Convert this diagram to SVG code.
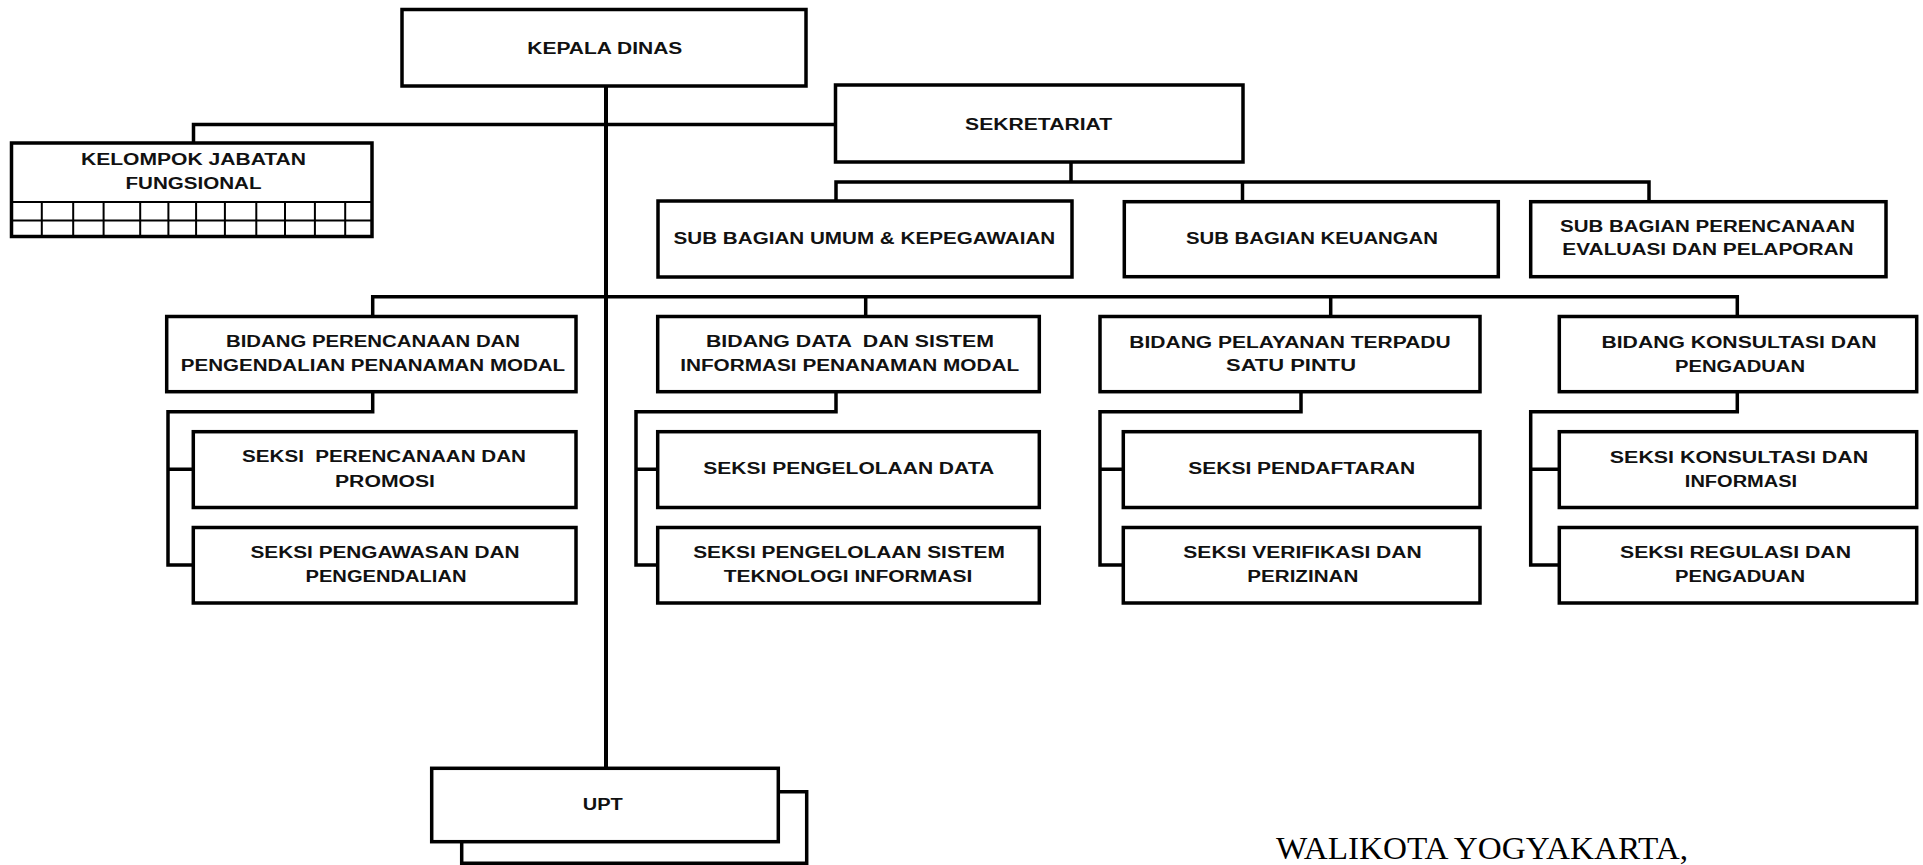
<svg xmlns="http://www.w3.org/2000/svg" width="1923" height="865" viewBox="0 0 1923 865">
<style>
.box{fill:#fff;stroke:#000;stroke-width:3.5}
.ln{fill:none;stroke:#000;stroke-width:3.5;stroke-linecap:square}
.grid{fill:none;stroke:#000;stroke-width:2}
.t{font-family:"Liberation Sans",Arial,sans-serif;font-weight:bold;font-size:16px;fill:#111;text-anchor:middle}
.sig{font-family:"Liberation Serif","Times New Roman",serif;font-size:31px;fill:#000}
</style>
<rect width="1923" height="865" fill="#fff"/>
<g id="connectors">
<path class="ln" d="M606 86 V768" style="stroke-width:4"/>
<path class="ln" d="M193.5 143 V124.5 H835"/>
<path class="ln" d="M1071 162 V182 M836 201 V182 H1649 V201 M1242.5 182 V201"/>
<path class="ln" d="M372.7 316.5 V296.7 H1737.3 V316.5 M865.7 296.7 V316.5 M1330.7 296.7 V316.5"/>
<path class="ln" d="M372.7 391.7 V411.7 H168 V565 H193.3 M168 469.3 H193.3"/>
<path class="ln" d="M836 391.7 V411.7 H636 V565 H657.7 M636 469.3 H657.7"/>
<path class="ln" d="M1301 391.7 V411.7 H1100 V565 H1123.3 M1100 469.3 H1123.3"/>
<path class="ln" d="M1737.3 391.7 V411.7 H1530.7 V565 H1559.3 M1530.7 469.3 H1559.3"/>
</g>
<g id="kepala-dinas"><rect class="box" x="402" y="9.5" width="404" height="76.5"/><text class="t" x="604.8" y="54" textLength="155" lengthAdjust="spacingAndGlyphs">KEPALA DINAS</text></g>
<g id="sekretariat"><rect class="box" x="835.5" y="85" width="407.5" height="77"/><text class="t" x="1038.6" y="130" textLength="147" lengthAdjust="spacingAndGlyphs">SEKRETARIAT</text></g>
<g id="kelompok-jabatan-fungsional"><rect class="box" x="11.5" y="143" width="360.5" height="93.5"/>
<path class="grid" d="M11.5 202 H372 M11.5 220.5 H372 M41.8 202 V236.5 M73.2 202 V236.5 M103.6 202 V236.5 M140.2 202 V236.5 M168.4 202 V236.5 M196.1 202 V236.5 M224.9 202 V236.5 M256.3 202 V236.5 M285 202 V236.5 M314.9 202 V236.5 M345.2 202 V236.5"/>
<text class="t" x="193.5" y="164.5" textLength="225" lengthAdjust="spacingAndGlyphs">KELOMPOK JABATAN</text><text class="t" x="193.5" y="189" textLength="136" lengthAdjust="spacingAndGlyphs">FUNGSIONAL</text></g>
<g id="sub-bagian-umum"><rect class="box" x="658" y="201" width="414" height="76"/><text class="t" x="864.4" y="244" textLength="381.7" lengthAdjust="spacingAndGlyphs">SUB BAGIAN UMUM &amp; KEPEGAWAIAN</text></g>
<g id="sub-bagian-keuangan"><rect class="box" x="1124.3" y="201.7" width="374" height="75"/><text class="t" x="1312" y="243.5" textLength="252" lengthAdjust="spacingAndGlyphs">SUB BAGIAN KEUANGAN</text></g>
<g id="sub-bagian-perencanaan"><rect class="box" x="1530.7" y="201.7" width="355.3" height="75"/><text class="t" x="1707.5" y="231.5" textLength="295" lengthAdjust="spacingAndGlyphs">SUB BAGIAN PERENCANAAN</text><text class="t" x="1708" y="255" textLength="291.3" lengthAdjust="spacingAndGlyphs">EVALUASI DAN PELAPORAN</text></g>
<g id="bidang-perencanaan"><rect class="box" x="166.7" y="316.5" width="409.3" height="75.2"/><text class="t" x="373" y="347" textLength="294" lengthAdjust="spacingAndGlyphs">BIDANG PERENCANAAN DAN</text><text class="t" x="373" y="371" textLength="384.3" lengthAdjust="spacingAndGlyphs">PENGENDALIAN PENANAMAN MODAL</text></g>
<g id="seksi-perencanaan-promosi"><rect class="box" x="193.3" y="431.7" width="382.7" height="75.8"/><text class="t" x="384" y="461.5" textLength="284" lengthAdjust="spacingAndGlyphs" xml:space="preserve">SEKSI  PERENCANAAN DAN</text><text class="t" x="385" y="486.5" textLength="100" lengthAdjust="spacingAndGlyphs">PROMOSI</text></g>
<g id="seksi-pengawasan"><rect class="box" x="193.3" y="527.5" width="382.7" height="75.5"/><text class="t" x="385" y="558" textLength="269" lengthAdjust="spacingAndGlyphs">SEKSI PENGAWASAN DAN</text><text class="t" x="386" y="581.5" textLength="161" lengthAdjust="spacingAndGlyphs">PENGENDALIAN</text></g>
<g id="bidang-data"><rect class="box" x="657.7" y="316.5" width="381.6" height="75.2"/><text class="t" x="850" y="347" textLength="288" lengthAdjust="spacingAndGlyphs" xml:space="preserve">BIDANG DATA  DAN SISTEM</text><text class="t" x="849.7" y="371" textLength="339" lengthAdjust="spacingAndGlyphs">INFORMASI PENANAMAN MODAL</text></g>
<g id="seksi-pengelolaan-data"><rect class="box" x="657.7" y="431.7" width="381.6" height="75.8"/><text class="t" x="848.7" y="474" textLength="290.7" lengthAdjust="spacingAndGlyphs">SEKSI PENGELOLAAN DATA</text></g>
<g id="seksi-pengelolaan-sistem"><rect class="box" x="657.7" y="527.5" width="381.6" height="75.5"/><text class="t" x="849" y="558" textLength="311.7" lengthAdjust="spacingAndGlyphs">SEKSI PENGELOLAAN SISTEM</text><text class="t" x="848" y="581.5" textLength="248.7" lengthAdjust="spacingAndGlyphs">TEKNOLOGI INFORMASI</text></g>
<g id="bidang-pelayanan"><rect class="box" x="1100" y="316.5" width="380" height="75.2"/><text class="t" x="1290" y="347.5" textLength="321.3" lengthAdjust="spacingAndGlyphs">BIDANG PELAYANAN TERPADU</text><text class="t" x="1291" y="371" textLength="130" lengthAdjust="spacingAndGlyphs">SATU PINTU</text></g>
<g id="seksi-pendaftaran"><rect class="box" x="1123.3" y="431.7" width="356.7" height="75.8"/><text class="t" x="1301.7" y="474" textLength="226.7" lengthAdjust="spacingAndGlyphs">SEKSI PENDAFTARAN</text></g>
<g id="seksi-verifikasi"><rect class="box" x="1123.3" y="527.5" width="356.7" height="75.5"/><text class="t" x="1302.5" y="558" textLength="238.3" lengthAdjust="spacingAndGlyphs">SEKSI VERIFIKASI DAN</text><text class="t" x="1302.8" y="581.5" textLength="111" lengthAdjust="spacingAndGlyphs">PERIZINAN</text></g>
<g id="bidang-konsultasi"><rect class="box" x="1559.3" y="316.5" width="357.4" height="75.2"/><text class="t" x="1739" y="348" textLength="275" lengthAdjust="spacingAndGlyphs">BIDANG KONSULTASI DAN</text><text class="t" x="1740" y="371.5" textLength="130" lengthAdjust="spacingAndGlyphs">PENGADUAN</text></g>
<g id="seksi-konsultasi"><rect class="box" x="1559.3" y="431.7" width="357.4" height="75.8"/><text class="t" x="1739" y="462.5" textLength="258.3" lengthAdjust="spacingAndGlyphs">SEKSI KONSULTASI DAN</text><text class="t" x="1741" y="486.5" textLength="112.3" lengthAdjust="spacingAndGlyphs">INFORMASI</text></g>
<g id="seksi-regulasi"><rect class="box" x="1559.3" y="527.5" width="357.4" height="75.5"/><text class="t" x="1735.5" y="558" textLength="231" lengthAdjust="spacingAndGlyphs">SEKSI REGULASI DAN</text><text class="t" x="1740" y="582" textLength="130" lengthAdjust="spacingAndGlyphs">PENGADUAN</text></g>
<g id="upt"><path class="ln" d="M778.3 791.7 H806.7 V863.3 H461.7 V841.7"/><rect class="box" x="431.7" y="768.3" width="346.6" height="73.4"/><text class="t" x="602.7" y="810" textLength="40" lengthAdjust="spacingAndGlyphs">UPT</text></g>
<text class="sig" x="1276" y="859" textLength="412" lengthAdjust="spacingAndGlyphs">WALIKOTA YOGYAKARTA,</text>
</svg>
